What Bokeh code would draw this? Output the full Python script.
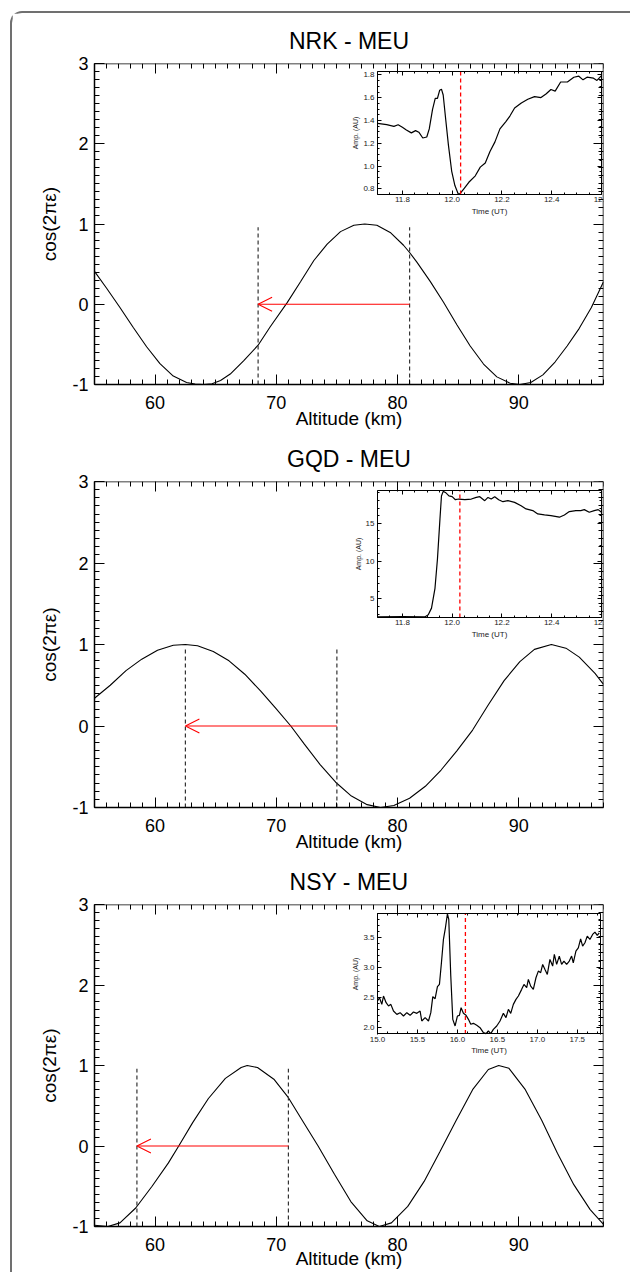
from bokeh.plotting import figure
from bokeh.models import (Range1d, LinearAxis, SingleIntervalTicker, Arrow, OpenHead,
                          PrintfTickFormatter)
from bokeh.layouts import column
from bokeh.embed import file_html
from bokeh.resources import INLINE

FONT = "Liberation Sans"

# ---------------- data: NRK - MEU ----------------
nrk_alt = [55.0, 56.0, 57.1, 58.2, 59.3, 60.4, 61.5, 62.6, 63.3, 64.0, 64.7, 65.4, 66.2, 67.3,
           68.5, 69.5, 70.9, 72.0, 73.1, 74.2, 75.3, 76.4, 77.3, 78.3, 79.4, 80.5, 81.0, 81.6,
           82.7, 83.8, 84.9, 86.0, 87.1, 88.2, 89.3, 90.1, 91.0, 92.0, 93.0, 94.0, 95.0, 96.0, 97.0]
nrk_cos = [0.41, 0.20, -0.04, -0.29, -0.53, -0.74, -0.895, -0.975, -0.995, -1.0, -0.99, -0.95,
           -0.87, -0.705, -0.51, -0.28, 0.02, 0.28, 0.545, 0.75, 0.905, 0.985, 1.0, 0.985, 0.895,
           0.735, 0.645, 0.525, 0.285, 0.025, -0.255, -0.52, -0.745, -0.905, -0.985, -1.0, -0.975,
           -0.88, -0.72, -0.52, -0.30, -0.04, 0.28]
nrk_marks = [68.5, 81.0]
nrk_time = [11.70, 11.737, 11.766, 11.783, 11.80, 11.816, 11.836, 11.853, 11.866, 11.882, 11.898,
            11.908, 11.921, 11.932, 11.941, 11.950, 11.957, 11.964, 11.974, 11.985, 11.998, 12.011,
            12.024, 12.030, 12.047, 12.067, 12.093, 12.113, 12.133, 12.152, 12.172, 12.192, 12.215,
            12.232, 12.251, 12.278, 12.304, 12.331, 12.357, 12.377, 12.397, 12.414, 12.436, 12.463,
            12.489, 12.509, 12.526, 12.542, 12.568, 12.582, 12.600]
nrk_amp = [1.374, 1.363, 1.348, 1.362, 1.34, 1.317, 1.291, 1.311, 1.297, 1.246, 1.255, 1.326, 1.496,
           1.595, 1.595, 1.666, 1.675, 1.624, 1.411, 1.183, 0.956, 0.828, 0.757, 0.752, 0.80, 0.857,
           0.914, 0.99, 1.027, 1.127, 1.212, 1.326, 1.388, 1.439, 1.51, 1.553, 1.587, 1.61, 1.601,
           1.632, 1.672, 1.658, 1.738, 1.738, 1.78, 1.789, 1.757, 1.78, 1.772, 1.752, 1.794]
nrk_event = 12.034

# ---------------- data: GQD - MEU ----------------
gqd_alt = [55.0, 56.3, 57.6, 58.9, 60.2, 61.5, 62.5, 63.5, 64.8, 66.1, 67.4, 68.7, 70.0, 71.2,
           72.3, 73.6, 74.9, 76.2, 77.5, 78.6, 79.7, 81.0, 82.3, 83.6, 84.9, 86.2, 87.5, 88.8,
           90.1, 91.3, 92.7, 93.9, 95.0, 96.3, 97.0]
gqd_cos = [0.34, 0.50, 0.68, 0.82, 0.93, 0.99, 1.0, 0.985, 0.915, 0.80, 0.635, 0.43, 0.21, 0.0,
           -0.22, -0.47, -0.69, -0.86, -0.965, -1.0, -0.976, -0.887, -0.74, -0.54, -0.305, -0.05,
           0.26, 0.557, 0.79, 0.94, 1.0, 0.955, 0.845, 0.645, 0.51]
gqd_marks = [62.5, 75.0]
gqd_time = [11.70, 11.80, 11.89, 11.904, 11.917, 11.931, 11.941, 11.951, 11.957, 11.964, 11.973,
            11.987, 12.0, 12.013, 12.027, 12.051, 12.077, 12.097, 12.111, 12.131, 12.144, 12.157,
            12.171, 12.187, 12.204, 12.224, 12.251, 12.277, 12.297, 12.324, 12.344, 12.371, 12.397,
            12.431, 12.451, 12.471, 12.497, 12.517, 12.531, 12.551, 12.571, 12.587, 12.60]
gqd_amp = [2.62, 2.66, 2.62, 2.9, 3.78, 6.4, 10.3, 15.57, 18.6, 19.2, 19.06, 18.6, 18.5, 18.1, 18.19,
           18.1, 18.19, 18.4, 18.5, 17.97, 18.4, 18.19, 18.5, 18.1, 17.84, 17.97, 17.75, 17.31, 16.88,
           16.66, 16.22, 16.09, 16.0, 15.79, 16.09, 16.53, 16.66, 16.66, 16.79, 16.44, 16.66, 16.79,
           16.44]
gqd_event = 12.031

# ---------------- data: NSY - MEU ----------------
nsy_alt = [55.0, 56.1, 57.1, 58.4, 59.75, 61.1, 61.95, 63.1, 64.4, 65.8, 67.1, 67.6, 68.45, 69.8,
           71.0, 72.1, 73.45, 74.8, 76.15, 77.5, 78.5, 79.5, 80.85, 82.2, 83.5, 84.85, 86.2, 87.5,
           88.35, 89.2, 90.55, 91.9, 93.2, 94.55, 95.9, 97.0]
nsy_cos = [-0.985, -1.0, -0.955, -0.77, -0.50, -0.21, 0.0, 0.29, 0.59, 0.84, 0.975, 1.0, 0.975,
           0.83, 0.60, 0.33, 0.0, -0.35, -0.69, -0.93, -1.0, -0.955, -0.75, -0.44, -0.07, 0.32, 0.70,
           0.95, 1.0, 0.965, 0.70, 0.32, -0.09, -0.48, -0.79, -0.975]
nsy_marks = [58.5, 71.0]
nsy_time = [15.0, 15.025, 15.054, 15.075, 15.108, 15.138, 15.167, 15.2, 15.242, 15.283, 15.325,
            15.367, 15.408, 15.45, 15.492, 15.533, 15.554, 15.596, 15.638, 15.667, 15.692, 15.721,
            15.75, 15.775, 15.8, 15.825, 15.85, 15.875, 15.892, 15.917, 15.942, 15.971, 16.0, 16.025,
            16.046, 16.075, 16.108, 16.138, 16.167, 16.2, 16.242, 16.283, 16.325, 16.358, 16.388,
            16.417, 16.45, 16.492, 16.533, 16.575, 16.608, 16.638, 16.667, 16.7, 16.733, 16.763,
            16.804, 16.833, 16.867, 16.888, 16.917, 16.95, 16.983, 17.013, 17.042, 17.067, 17.096,
            17.125, 17.158, 17.192, 17.213, 17.242, 17.275, 17.304, 17.333, 17.367, 17.4, 17.429,
            17.45, 17.483, 17.513, 17.542, 17.567, 17.596, 17.625, 17.658, 17.692, 17.721, 17.75,
            17.775]
nsy_amp = [2.444, 2.5, 2.389, 2.528, 2.417, 2.361, 2.389, 2.278, 2.222, 2.25, 2.194, 2.25, 2.206,
           2.261, 2.239, 2.278, 2.111, 2.167, 2.111, 2.25, 2.517, 2.483, 2.683, 2.722, 3.083, 3.472,
           3.667, 3.90, 3.806, 2.861, 2.139, 2.028, 2.194, 2.206, 2.333, 2.239, 2.206, 2.139, 2.056,
           2.072, 2.039, 2.0, 1.917, 1.90, 1.944, 1.90, 1.972, 2.028, 2.111, 2.239, 2.167, 2.306,
           2.239, 2.389, 2.472, 2.528, 2.639, 2.722, 2.667, 2.806, 2.694, 2.639, 2.833, 2.944, 2.917,
           3.056, 2.972, 2.889, 3.139, 3.028, 3.222, 3.056, 3.194, 3.056, 3.111, 3.056, 3.111, 3.194,
           3.083, 3.278, 3.333, 3.483, 3.361, 3.417, 3.528, 3.472, 3.556, 3.594, 3.539, 3.583]
nsy_event = 16.10

# axis extents / ticks
alt_range = (55, 97)
cos_range = (-1, 3)
mark_top = 0.96
arrow_level = 0.0


def style_axis(ax, size, tick_in, minor_in, width, show_labels=True, color="black"):
    ax.axis_line_color = "black"
    ax.axis_line_width = width
    ax.major_tick_line_color = "black"
    ax.minor_tick_line_color = "black"
    ax.major_tick_line_width = 1.0
    ax.minor_tick_line_width = 1.0
    ax.major_tick_in = tick_in
    ax.major_tick_out = 0
    ax.minor_tick_in = minor_in
    ax.minor_tick_out = 0
    ax.major_label_text_font = FONT
    if show_labels:
        ax.major_label_text_font_size = size
        ax.major_label_text_color = color
    else:
        ax.major_label_text_font_size = "0px"
        ax.major_label_text_color = None
    ax.axis_label_text_font = FONT
    ax.axis_label_text_font_style = "normal"
    ax.axis_label_text_color = color


def make_panel(title, alt, cosv, marks, t, amp, ev, ix, iy, ixtick, iytick, ifmt, box,
               fh, bt, bb, xlab_standoff):
    p = figure(frame_width=509, frame_height=fh, x_range=Range1d(*alt_range),
               y_range=Range1d(*cos_range), output_backend="svg", toolbar_location=None,
               min_border_left=82, min_border_right=27, min_border_top=bt, min_border_bottom=bb,
               x_axis_type=None, y_axis_type=None)
    p.grid.visible = False
    p.outline_line_color = None
    p.background_fill_color = "white"
    p.border_fill_color = "white"

    p.title.text = title
    p.title.align = "center"
    p.title.text_font = FONT
    p.title.text_font_size = "23px"
    p.title.text_font_style = "normal"
    p.title.text_color = "black"
    p.title.standoff = 20

    xa = LinearAxis(ticker=SingleIntervalTicker(interval=10, num_minor_ticks=10),
                    formatter=PrintfTickFormatter(format="%d"),
                    axis_label="Altitude (km)")
    style_axis(xa, "18px", 10, 5, 1.5)
    xa.axis_label_text_font_size = "19px"
    xa.major_label_standoff = 11
    xa.axis_label_standoff = xlab_standoff
    p.add_layout(xa, "below")

    ya = LinearAxis(ticker=SingleIntervalTicker(interval=1, num_minor_ticks=10),
                    formatter=PrintfTickFormatter(format="%d"),
                    axis_label="cos(2πε)")
    style_axis(ya, "18px", 10, 5, 1.5)
    ya.axis_label_text_font_size = "19px"
    ya.major_label_standoff = 6
    ya.axis_label_standoff = 9
    p.add_layout(ya, "left")

    xt = LinearAxis(ticker=SingleIntervalTicker(interval=10, num_minor_ticks=10),
                    fixed_location=cos_range[1])
    style_axis(xt, "18px", 10, 5, 1.5, show_labels=False)
    p.add_layout(xt, "above")
    yr = LinearAxis(ticker=SingleIntervalTicker(interval=1, num_minor_ticks=10),
                    fixed_location=alt_range[1])
    style_axis(yr, "18px", 10, 5, 1.5, show_labels=False)
    p.add_layout(yr, "right")

    # main curve, marks and arrow
    p.line(alt, cosv, line_color="black", line_width=1.1)
    p.segment(x0=marks, y0=[cos_range[0]] * len(marks), x1=marks, y1=[mark_top] * len(marks),
              line_color="#333333", line_width=1.2, line_dash="4 3")
    p.add_layout(Arrow(end=OpenHead(size=14, line_color="red", line_width=1.1),
                       x_start=marks[1], y_start=arrow_level, x_end=marks[0], y_end=arrow_level,
                       line_color="red", line_width=1.1))

    # inset through extra ranges
    (x0, x1), (y0, y1) = ix, iy
    L, R, T, B = box
    sx = (x1 - x0) / (R - L)
    fb, ft = 1 - B, 1 - T
    sy = (y1 - y0) / (ft - fb)
    p.extra_x_ranges = {"ix": Range1d(x0 - L * sx, x0 - L * sx + sx)}
    p.extra_y_ranges = {"iy": Range1d(y0 - fb * sy, y0 - fb * sy + sy)}

    p.line(t, amp, x_range_name="ix", y_range_name="iy", line_color="black", line_width=1.2)
    p.segment(x0=[ev], y0=[y0], x1=[ev], y1=[y1], x_range_name="ix", y_range_name="iy",
              line_color="red", line_width=1.3, line_dash="4 3")

    ex = (x1 - x0) * 1e-3
    ey = (y1 - y0) * 1e-3
    for side, loc in (("below", y0), ("above", y1)):
        ax = LinearAxis(x_range_name="ix", y_range_name="iy", fixed_location=loc,
                        bounds=(x0 - ex, x1 + ex),
                        ticker=SingleIntervalTicker(interval=ixtick[0], num_minor_ticks=ixtick[1]),
                        formatter=PrintfTickFormatter(format="%.1f"))
        style_axis(ax, "8px", 4, 2, 1.0, show_labels=(side == "below"), color="#222222")
        if side == "below":
            ax.axis_label = "Time (UT)"
            ax.axis_label_text_font_size = "8px"
            ax.major_label_standoff = 3
            ax.axis_label_standoff = 1
        p.add_layout(ax, side)
    for side, loc in (("left", x0), ("right", x1)):
        ax = LinearAxis(x_range_name="ix", y_range_name="iy", fixed_location=loc,
                        bounds=(y0 - ey, y1 + ey),
                        ticker=SingleIntervalTicker(interval=iytick[0], num_minor_ticks=iytick[1]),
                        formatter=PrintfTickFormatter(format=ifmt))
        style_axis(ax, "8px", 4, 2, 1.0, show_labels=(side == "left"), color="#222222")
        if side == "left":
            ax.axis_label = "Amp. (AU)"
            ax.axis_label_text_font_size = "7px"
            ax.major_label_standoff = 3
            ax.axis_label_standoff = 1
        p.add_layout(ax, side)
    return p


p1 = make_panel("NRK - MEU", nrk_alt, nrk_cos, nrk_marks, nrk_time, nrk_amp, nrk_event,
                (11.70, 12.60), (0.75, 1.83), (0.2, 4), (0.2, 4), "%.1f",
                (0.556, 0.996, 0.025, 0.408), 321, 50, 49, -4)
p2 = make_panel("GQD - MEU", gqd_alt, gqd_cos, gqd_marks, gqd_time, gqd_amp, gqd_event,
                (11.70, 12.60), (2.55, 19.3), (0.2, 4), (5, 5), "%d",
                (0.556, 0.996, 0.028, 0.417), 326, 47, 49, -4)
p3 = make_panel("NSY - MEU", nsy_alt, nsy_cos, nsy_marks, nsy_time, nsy_amp, nsy_event,
                (15.0, 17.79), (1.895, 3.905), (0.5, 4), (0.5, 5), "%.1f",
                (0.556, 0.994, 0.028, 0.402), 322, 47, 48, -6)

layout = column(p1, p2, p3, margin=(11, 0, 0, 10),
                styles={"border-left": "2px solid #707070", "border-top": "2px solid #707070",
                        "border-top-left-radius": "12px"})

open("out.html", "w").write(file_html(layout, INLINE))
